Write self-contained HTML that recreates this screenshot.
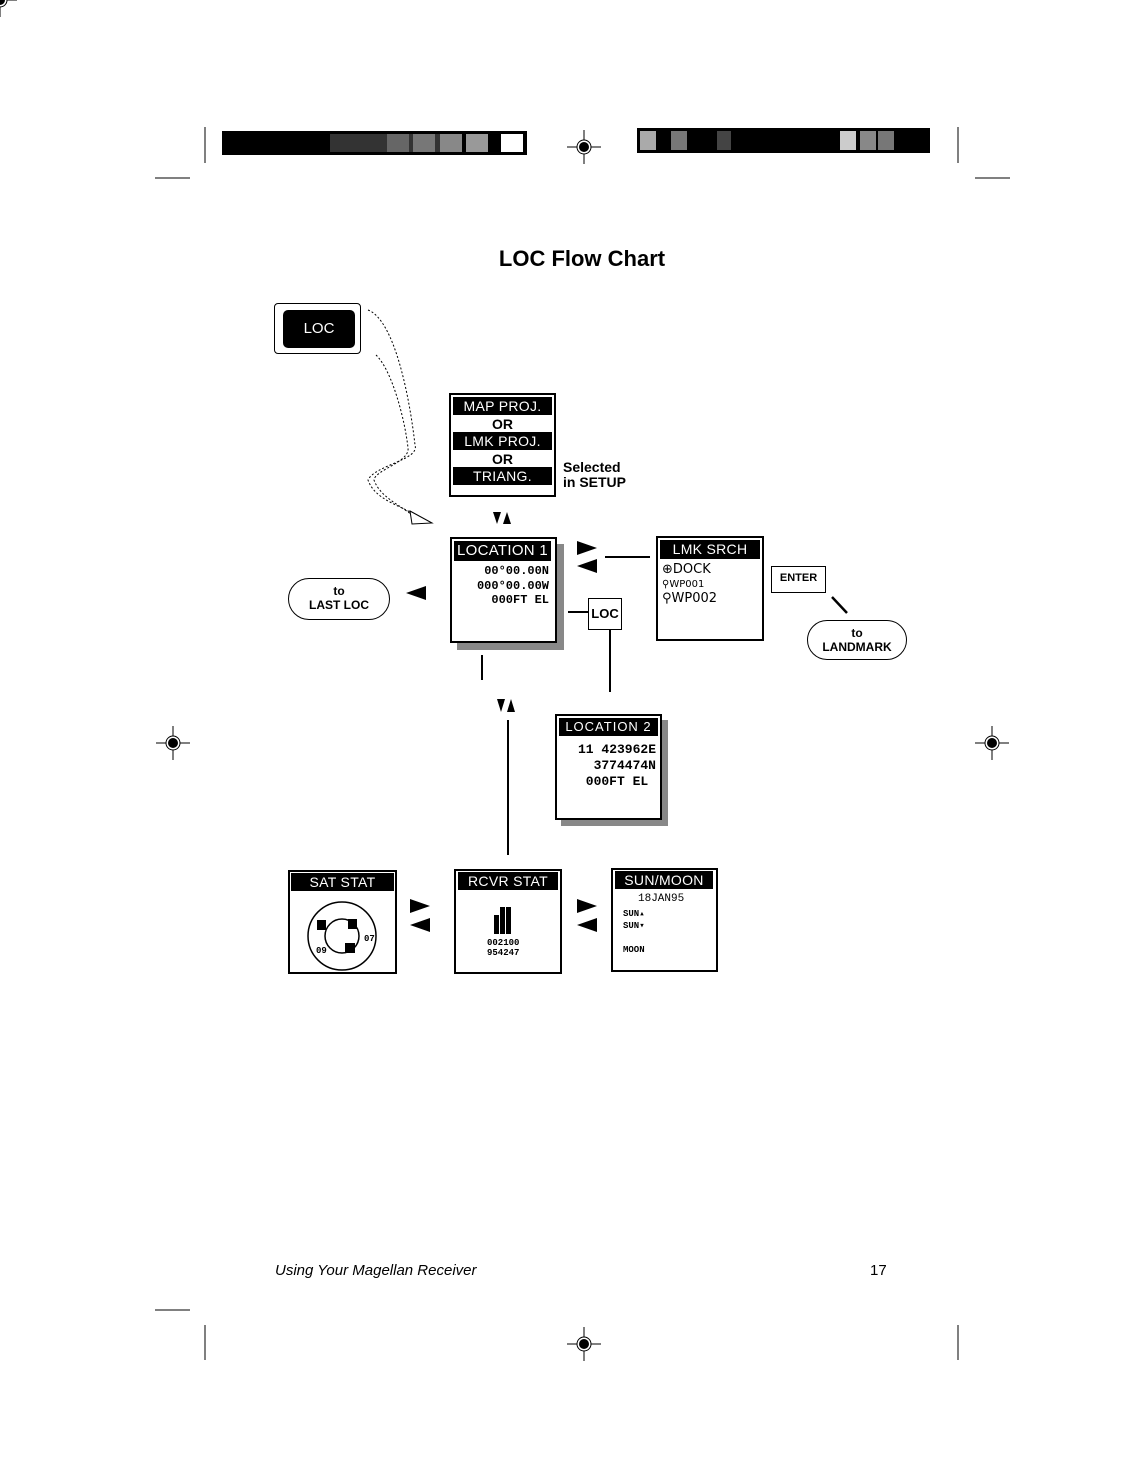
<!DOCTYPE html>
<html><head><meta charset="utf-8"><style>
body{margin:0;background:#fff;}
#c{position:relative;width:1147px;height:1462px;overflow:hidden;font-family:"Liberation Sans",sans-serif;}
.a{position:absolute;}
.box{position:absolute;border:2px solid #000;background:#fff;box-sizing:border-box;}
.bar{position:absolute;background:#000;color:#fff;text-align:center;font-size:14px;line-height:18px;letter-spacing:0.3px;}
.mono{font-family:"Liberation Mono",monospace;font-weight:bold;font-size:12px;}
.sh{position:absolute;background:#888;}
.pill{position:absolute;border:1.5px solid #000;border-radius:22px;text-align:center;font-weight:bold;font-size:12px;line-height:14px;box-sizing:border-box;}
</style></head><body><div id="c">
<svg class="a" style="left:0;top:0" width="1147" height="1462">
<g stroke="#000" fill="none">
<line x1="205" y1="127" x2="205" y2="163"/><line x1="958" y1="127" x2="958" y2="163"/>
<line x1="155" y1="178" x2="190" y2="178"/><line x1="975" y1="178" x2="1010" y2="178"/>
<line x1="205" y1="1325" x2="205" y2="1360"/><line x1="958" y1="1325" x2="958" y2="1360"/>
<line x1="155" y1="1310" x2="190" y2="1310"/>
</g>
<rect x="222" y="131" width="305" height="24" fill="#000"/>
<rect x="330" y="134" width="110" height="18" fill="#333"/>
<rect x="387" y="134" width="22" height="18" fill="#666"/><rect x="413" y="134" width="22" height="18" fill="#777"/>
<rect x="440" y="134" width="22" height="18" fill="#888"/><rect x="466" y="134" width="22" height="18" fill="#999"/>
<rect x="501" y="134" width="22" height="18" fill="#fff"/>
<rect x="637" y="128" width="293" height="25" fill="#000"/>
<rect x="640" y="131" width="16" height="19" fill="#aaa"/><rect x="671" y="131" width="16" height="19" fill="#777"/>
<rect x="717" y="131" width="14" height="19" fill="#444"/>
<rect x="840" y="131" width="16" height="19" fill="#ccc"/><rect x="860" y="131" width="16" height="19" fill="#888"/><rect x="878" y="131" width="16" height="19" fill="#777"/>
<g id="ch"><line x1="-17" y1="0" x2="17" y2="0" stroke="#000"/><line x1="0" y1="-17" x2="0" y2="17" stroke="#000"/><circle r="7" fill="#fff" stroke="#000"/><circle r="5" fill="#000"/></g>
<use href="#ch" x="584" y="147"/><use href="#ch" x="173" y="743"/><use href="#ch" x="992" y="743"/><use href="#ch" x="584" y="1344"/>
<!-- dotted curves -->
<g stroke="#000" fill="none" stroke-dasharray="2,2" stroke-width="1">
<path d="M368 310 C395 320 410 400 415 445 C420 460 375 465 368 480 C375 500 400 505 415 515"/>
<path d="M376 355 C392 370 405 420 408 448 C410 462 375 470 374 480 C380 497 400 505 412 515"/>
</g>
<polygon points="410,511 432,523 412,524" fill="#fff" stroke="#000"/>
<!-- connectors -->
<g stroke="#000" stroke-width="2">
<line x1="605" y1="557" x2="650" y2="557"/>
<line x1="568" y1="612" x2="588" y2="612"/>
<line x1="610" y1="630" x2="610" y2="692"/>
<line x1="482" y1="655" x2="482" y2="680"/>
<line x1="508" y1="720" x2="508" y2="855"/>
<line x1="832" y1="597" x2="847" y2="613" stroke-width="2.5"/>
</g>
<g fill="#000">
<polygon points="493,512 501,512 497,524"/><polygon points="503,524 511,524 507,512"/>
<polygon points="497,699 505,699 501,712"/><polygon points="507,712 515,712 511,699"/>
<polygon points="577,541 597,548 577,555"/><polygon points="597,559 577,566 597,573"/>
<polygon points="406,593 426,586 426,600"/>
<polygon points="410,899 430,906 410,913"/><polygon points="430,918 410,925 430,932"/>
<polygon points="577,899 597,906 577,913"/><polygon points="597,918 577,925 597,932"/>
</g>
</svg>
<div class="a" style="left:0;width:1164px;top:246px;text-align:center;font-weight:bold;font-size:22px;">LOC Flow Chart</div>
<div class="a" style="left:274px;top:303px;width:87px;height:51px;border:1.5px solid #000;border-radius:4px;box-sizing:border-box;"></div>
<div class="a" style="left:283px;top:310px;width:72px;height:38px;background:#000;border-radius:5px;color:#fff;font-size:15px;line-height:38px;text-align:center;">LOC</div>

<div class="box" style="left:449px;top:393px;width:107px;height:104px;"></div>
<div class="bar" style="left:453px;top:397px;width:99px;">MAP PROJ.</div>
<div class="a" style="left:449px;width:107px;top:416px;text-align:center;font-weight:bold;font-size:14px;">OR</div>
<div class="bar" style="left:453px;top:432px;width:99px;">LMK PROJ.</div>
<div class="a" style="left:449px;width:107px;top:451px;text-align:center;font-weight:bold;font-size:14px;">OR</div>
<div class="bar" style="left:453px;top:467px;width:99px;">TRIANG.</div>
<div class="a" style="left:563px;top:460px;font-weight:bold;font-size:14px;line-height:15px;">Selected<br>in SETUP</div>

<div class="sh" style="left:457px;top:544px;width:107px;height:106px;"></div>
<div class="box" style="left:450px;top:537px;width:107px;height:106px;"></div>
<div class="bar" style="left:454px;top:541px;width:97px;font-size:15px;line-height:20px;">LOCATION 1</div>
<div class="a mono" style="left:454px;width:95px;top:564px;text-align:right;line-height:14.5px;">00°00.00N<br>000°00.00W<br>000FT EL</div>

<div class="box" style="left:656px;top:536px;width:108px;height:105px;"></div>
<div class="bar" style="left:660px;top:540px;width:100px;font-size:14px;line-height:19px;">LMK SRCH</div>
<div class="a" style="left:662px;top:563px;font-size:13px;line-height:14px;font-family:'DejaVu Sans',sans-serif;">⊕DOCK<br><span style="font-size:10px">⚲WP001</span><br>⚲WP002</div>
<div class="box" style="left:771px;top:566px;width:55px;height:27px;border-width:1.5px;font-weight:bold;font-size:11px;text-align:center;line-height:22px;overflow:hidden;">ENTER</div>
<div class="pill" style="left:807px;top:620px;width:100px;height:40px;padding-top:5px;">to<br>LANDMARK</div>
<div class="box" style="left:588px;top:598px;width:34px;height:32px;border-width:1.5px;font-weight:bold;font-size:13px;text-align:center;line-height:29px;">LOC</div>
<div class="pill" style="left:288px;top:578px;width:102px;height:42px;padding-top:5px;">to<br>LAST LOC</div>

<div class="sh" style="left:561px;top:720px;width:107px;height:106px;"></div>
<div class="box" style="left:555px;top:714px;width:107px;height:106px;"></div>
<div class="bar" style="left:559px;top:718px;width:99px;font-size:13px;letter-spacing:1px;">LOCATION 2</div>
<div class="a mono" style="left:559px;width:97px;top:742px;text-align:right;font-size:13px;line-height:16px;">11 423962E<br>3774474N<br>000FT EL&nbsp;</div>

<div class="box" style="left:288px;top:870px;width:109px;height:104px;"></div>
<div class="bar" style="left:291px;top:873px;width:103px;font-size:14px;">SAT STAT</div>
<svg class="a" style="left:288px;top:870px" width="109" height="104">
<circle cx="54" cy="66" r="34" fill="none" stroke="#000" stroke-width="1.5"/>
<circle cx="54" cy="66" r="17" fill="none" stroke="#000" stroke-width="1.5"/>
<rect x="29" y="50" width="9" height="10"/><rect x="60" y="49" width="9" height="10"/><rect x="57" y="73" width="10" height="10"/>
<text x="76" y="71" font-family="Liberation Mono" font-size="9" font-weight="bold">07</text>
<text x="28" y="83" font-family="Liberation Mono" font-size="9" font-weight="bold">09</text>
</svg>

<div class="box" style="left:454px;top:869px;width:108px;height:105px;"></div>
<div class="bar" style="left:458px;top:872px;width:100px;font-size:14px;">RCVR STAT</div>
<svg class="a" style="left:454px;top:869px" width="108" height="105">
<rect x="40" y="46" width="5" height="19"/><rect x="46" y="38" width="5" height="27"/><rect x="52" y="38" width="5" height="27"/>
<text x="33" y="76" font-family="Liberation Mono" font-size="9" font-weight="bold">002100</text>
<text x="33" y="86" font-family="Liberation Mono" font-size="9" font-weight="bold">954247</text>
</svg>

<div class="box" style="left:611px;top:868px;width:107px;height:104px;"></div>
<div class="bar" style="left:615px;top:871px;width:98px;font-size:14px;">SUN/MOON</div>
<div class="a mono" style="left:638px;top:893px;font-size:11px;font-weight:normal;">18JAN95</div>
<div class="a mono" style="left:623px;top:908px;font-size:9px;line-height:12px;">SUN▴<br>SUN▾<br><br>MOON</div>

<div class="a" style="left:275px;top:1262px;font-style:italic;font-size:15px;">Using Your Magellan Receiver</div>
<div class="a" style="left:870px;top:1262px;font-size:15px;">17</div>
</div></body></html>
